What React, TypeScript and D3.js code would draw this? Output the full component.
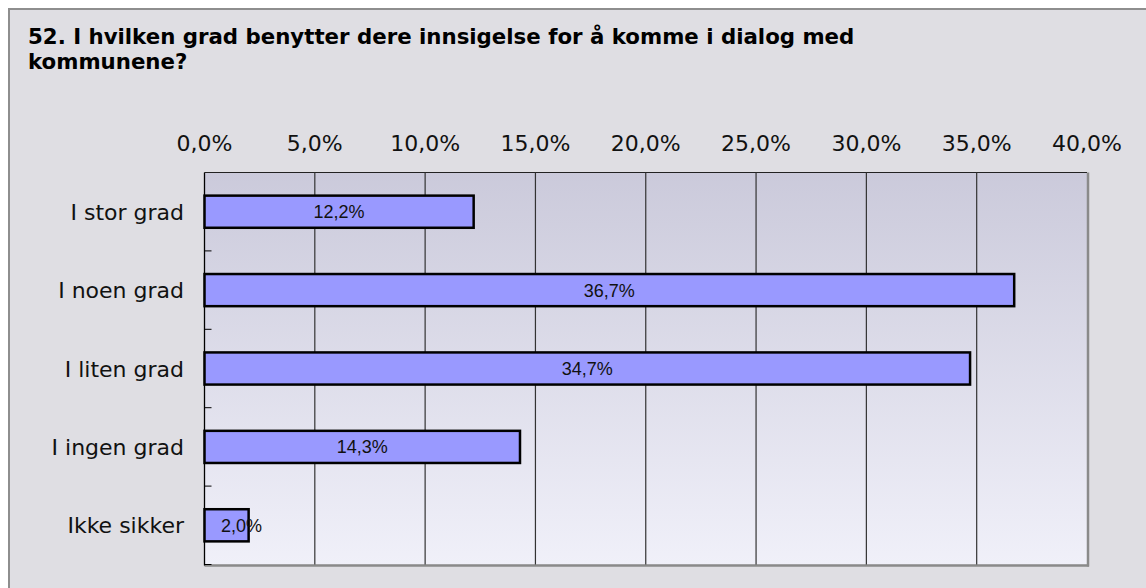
import React from "react";
import * as d3 from "d3";

const titleLines = [
  "52. I hvilken grad benytter dere innsigelse for å komme i dialog med",
  "kommunene?",
];
const categories = ["I stor grad", "I noen grad", "I liten grad", "I ingen grad", "Ikke sikker"];
const values = [12.2, 36.7, 34.7, 14.3, 2.0];
const xTicks = [0, 5, 10, 15, 20, 25, 30, 35, 40];

const W = 1146;
const H = 588;
const plot = { left: 204.5, right: 1087, top: 172.5, bottom: 564.5 };

const fmt = (v: number) => v.toFixed(1).replace(".", ",") + "%";

export default function App() {
  const x = d3.scaleLinear().domain([0, 40]).range([plot.left, plot.right]);
  const y = d3
    .scaleBand<string>()
    .domain(categories)
    .range([plot.top, plot.bottom])
    .paddingInner(0.59)
    .paddingOuter(0.295);
  const step = y.step();
  const boundaries = categories.map((_, i) => plot.top + step * (i + 1));

  return (
    <svg
      width={W}
      height={H}
      style={{ position: "absolute", left: 0, top: 0, overflow: "hidden", display: "block" }}
      fontFamily="'DejaVu Sans', Verdana, sans-serif"
    >
      <defs>
        <linearGradient id="plotbg" x1="0" y1="0" x2="0" y2="1">
          <stop offset="0" stopColor="#cbcadb" />
          <stop offset="1" stopColor="#f0f0f9" />
        </linearGradient>
      </defs>
      <rect x={0} y={0} width={W} height={H} fill="#ffffff" />
      <rect x={8} y={8} width={W - 8} height={H - 8} fill="#dfdee3" />
      <line x1={8} x2={W} y1={9} y2={9} stroke="#8e8e8e" strokeWidth={2} />
      <line x1={9} x2={9} y1={8} y2={H} stroke="#8e8e8e" strokeWidth={2} />

      {titleLines.map((t, i) => (
        <text key={i} x={28} y={44 + i * 25} fontSize={21.3} fontWeight="bold" fill="#000">
          {t}
        </text>
      ))}

      {/* plot background */}
      <rect
        x={plot.left}
        y={plot.top}
        width={plot.right - plot.left}
        height={plot.bottom - plot.top}
        fill="url(#plotbg)"
      />
      {/* shadow lines right & bottom */}
      <line x1={plot.right + 1} x2={plot.right + 1} y1={plot.top} y2={plot.bottom + 2} stroke="#8a8a8a" strokeWidth={2.5} />
      <line x1={plot.left} x2={plot.right + 2} y1={plot.bottom + 1} y2={plot.bottom + 1} stroke="#8a8a8a" strokeWidth={2.5} />
      {/* top border */}
      <line x1={plot.left} x2={plot.right} y1={plot.top} y2={plot.top} stroke="#222" strokeWidth={1.2} />

      {/* grid lines */}
      {xTicks.slice(1, -1).map((t) => (
        <line key={t} x1={x(t)} x2={x(t)} y1={plot.top} y2={plot.bottom} stroke="#333" strokeWidth={1.2} />
      ))}

      {/* tick labels */}
      {xTicks.map((t) => (
        <text key={t} x={x(t)} y={151} fontSize={22} textAnchor="middle" fill="#111">
          {fmt(t)}
        </text>
      ))}

      {/* left axis */}
      <line x1={plot.left} x2={plot.left} y1={plot.top} y2={plot.bottom + 1} stroke="#000" strokeWidth={1.3} />
      {boundaries.map((b, i) => (
        <line key={i} x1={plot.left} x2={plot.left + 7} y1={b} y2={b} stroke="#000" strokeWidth={1} />
      ))}

      {/* category labels */}
      {categories.map((c) => (
        <text
          key={c}
          x={184}
          y={(y(c) as number) + y.bandwidth() / 2 + 8}
          fontSize={22}
          textAnchor="end"
          fill="#111"
        >
          {c}
        </text>
      ))}

      {/* bars */}
      {categories.map((c, i) => {
        const x0 = x(0);
        const x1 = x(values[i]);
        const by = y(c) as number;
        const cx = Math.max((x0 + x1) / 2, x0 + 37);
        return (
          <g key={c}>
            <rect x={x0} y={by} width={x1 - x0} height={y.bandwidth()} fill="#9999ff" stroke="#000" strokeWidth={2.5} />
            <text
              x={cx}
              y={by + y.bandwidth() / 2 + 6.5}
              fontSize={18}
              textAnchor="middle"
              fontFamily="'Liberation Sans', Arial, sans-serif"
              fill="#111"
            >
              {fmt(values[i])}
            </text>
          </g>
        );
      })}
    </svg>
  );
}
